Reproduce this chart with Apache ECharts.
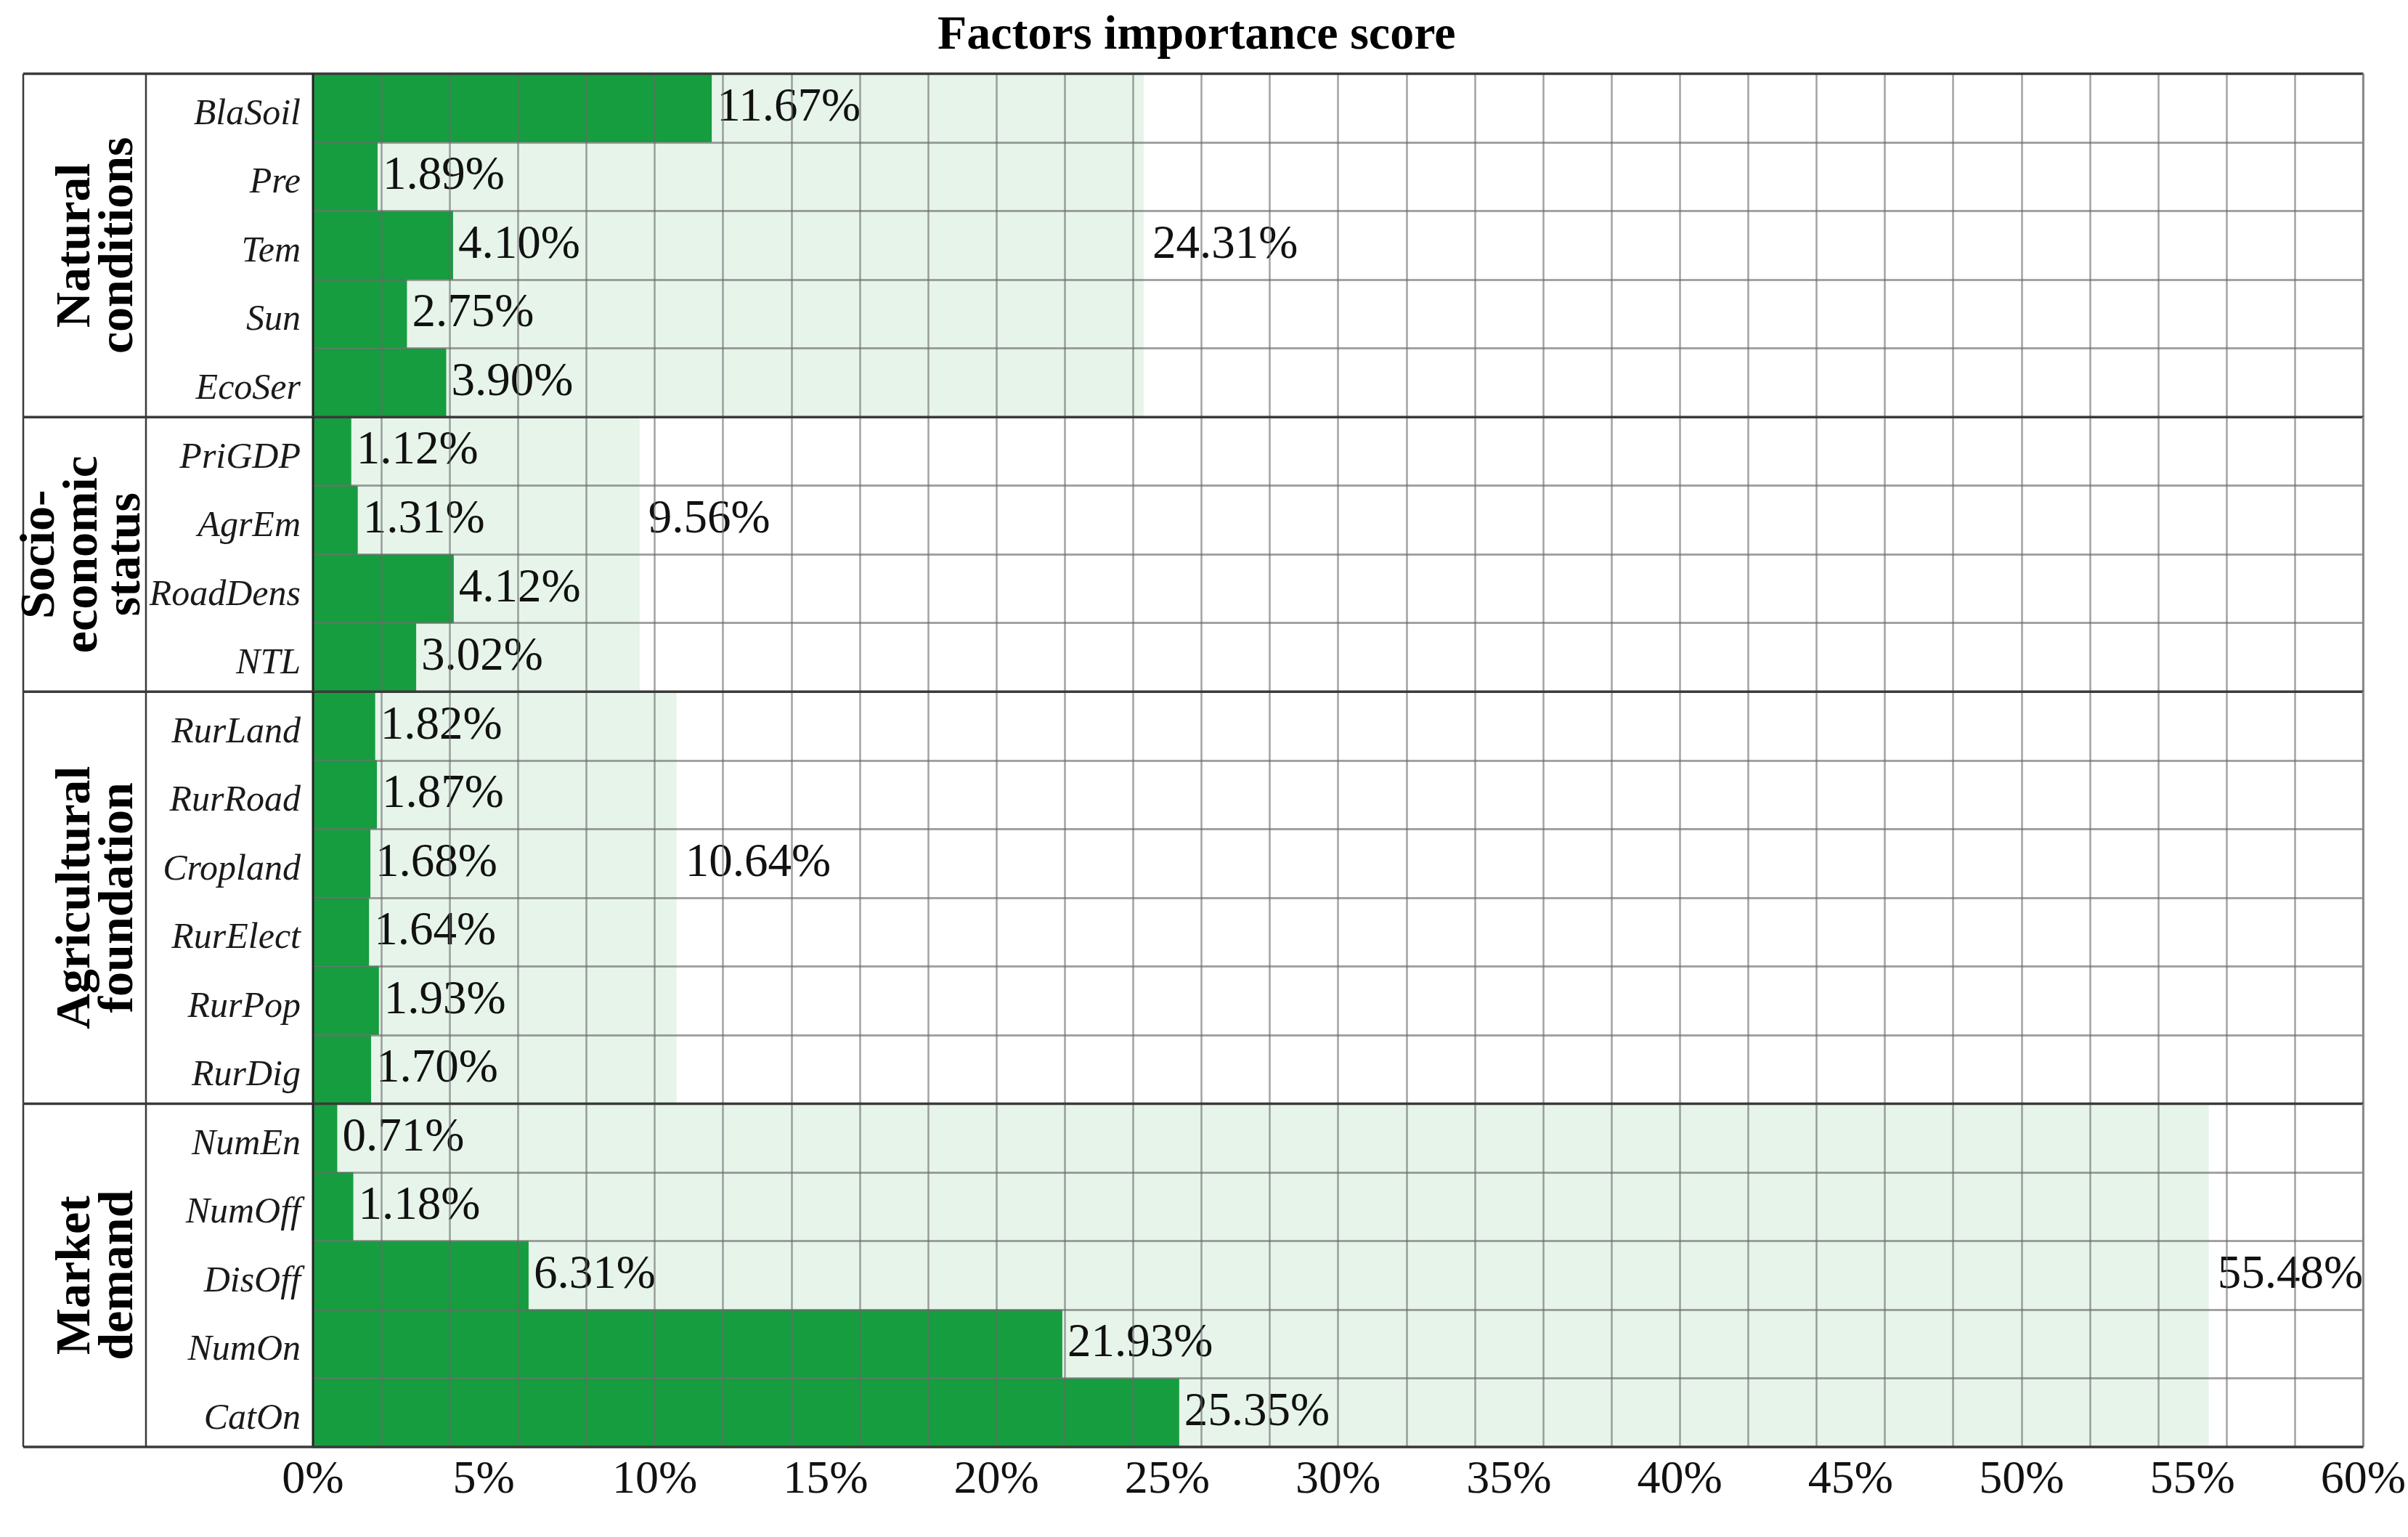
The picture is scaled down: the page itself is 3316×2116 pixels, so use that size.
<!DOCTYPE html>
<html>
<head>
<meta charset="utf-8">
<script src="https://cdn.jsdelivr.net/npm/echarts@6/dist/echarts.min.js"></script>
<style>
html,body{margin:0;padding:0;background:#fff;}
#chart{width:3316px;height:2116px;}
</style>
</head>
<body>
<div id="chart"></div>
<script>
// ---- data ----
const factors = ['BlaSoil','Pre','Tem','Sun','EcoSer',
  'PriGDP','AgrEm','RoadDens','NTL',
  'RurLand','RurRoad','Cropland','RurElect','RurPop','RurDig',
  'NumEn','NumOff','DisOff','NumOn','CatOn'];
const scores = [11.67,1.89,4.10,2.75,3.90,
  1.12,1.31,4.12,3.02,
  1.82,1.87,1.68,1.64,1.93,1.70,
  0.71,1.18,6.31,21.93,25.35];
const groupNames = ['Natural\nconditions','Socio-\neconomic\nstatus','Agricultural\nfoundation','Market\ndemand'];
const groupSizes = [5,4,6,5];
const groupTotals = [24.31,9.56,10.64,55.48];
const titleText = 'Factors importance score';
const xMin = 0, xMax = 60, xLabelStep = 5, xGridStep = 2;

// ---- derived ----
const rowGroup = [];
const groupStart = [];
let s = 0;
groupSizes.forEach((n, g) => { groupStart.push(s); for (let i = 0; i < n; i++) rowGroup.push(g); s += n; });
const labelRows = groupSizes.map((n, g) => groupStart[g] + Math.floor((n - 1) / 2));
const totalsData = factors.map((f, i) => ({
  value: groupTotals[rowGroup[i]],
  label: { show: labelRows.indexOf(i) >= 0 }
}));
const groupData = groupSizes.map((n, g) => [groupStart[g], groupStart[g] + n - 1, g]);

const FONT = 'Liberation Serif';
const TABLE_LEFT = 32, COL_DIV = 201;

const chart = echarts.init(document.getElementById('chart'));
chart.setOption({
  backgroundColor: '#ffffff',
  animation: false,
  title: {
    text: titleText,
    left: 1286, top: 12,
    textStyle: { fontFamily: FONT, fontSize: 66, fontWeight: 'bold', color: '#000' }
  },
  grid: { left: 431, right: 49, top: 101.5, bottom: 124, containLabel: false },
  xAxis: [
    {
      type: 'value', min: xMin, max: xMax, interval: xLabelStep, position: 'bottom',
      axisLine: { show: false }, axisTick: { show: false }, splitLine: { show: false },
      axisLabel: { formatter: '{value}%', fontFamily: FONT, fontSize: 64, color: '#111', margin: 14 }
    },
    {
      type: 'value', min: xMin, max: xMax, interval: xGridStep, position: 'bottom', z: 6,
      axisLine: { show: false }, axisTick: { show: false }, axisLabel: { show: false },
      splitLine: { show: true, lineStyle: { color: 'rgba(105,105,105,0.62)', width: 2.5 } }
    }
  ],
  yAxis: [{
    type: 'category', data: factors, inverse: true, z: 6,
    axisLine: { show: false }, axisTick: { show: false },
    axisLabel: { fontFamily: FONT, fontStyle: 'italic', fontSize: 50, color: '#1a1a1a', margin: 17,
      verticalAlign: 'top', lineHeight: 18 },
    splitLine: { show: true, interval: 0, lineStyle: { color: 'rgba(105,105,105,0.62)', width: 3 } }
  }],
  series: [
    {
      name: 'group total', type: 'bar', data: totalsData,
      barGap: '-100%', barCategoryGap: '0%', z: 1,
      itemStyle: { color: '#E6F4EA' },
      label: {
        position: 'right', distance: 12,
        formatter: p => p.value.toFixed(2) + '%',
        fontFamily: FONT, fontSize: 65, color: '#111'
      }
    },
    {
      name: 'factor', type: 'bar', data: scores,
      barGap: '-100%', barCategoryGap: '0%', z: 2,
      itemStyle: { color: '#169D3F' },
      label: {
        show: true, position: 'right', distance: 7,
        formatter: p => p.value.toFixed(2) + '%',
        fontFamily: FONT, fontSize: 65, color: '#111'
      }
    },
    {
      name: 'groups', type: 'custom', z: 10, clip: false, silent: true,
      data: groupData,
      encode: { x: 0, y: 1 },
      renderItem: function (params, api) {
        const start = api.value(0), end = api.value(1), g = api.value(2);
        const band = api.size([0, 1])[1];
        const pStart = api.coord([xMin, start]);
        const top = pStart[1] - band / 2;
        const bottom = api.coord([xMin, end])[1] + band / 2;
        const x0 = pStart[0];
        const xr = api.coord([xMax, start])[0];
        const dark = '#3a3a3a';
        const nLines = groupNames[g].split('\n').length;
        const textX = (TABLE_LEFT + COL_DIV) / 2 + 18 - (nLines - 2) * 19;
        const children = [
          { type: 'line', shape: { x1: TABLE_LEFT, y1: top, x2: xr, y2: top }, style: { stroke: dark, lineWidth: 3.5 } },
          { type: 'line', shape: { x1: TABLE_LEFT, y1: top, x2: TABLE_LEFT, y2: bottom }, style: { stroke: dark, lineWidth: 2.5 } },
          { type: 'line', shape: { x1: COL_DIV, y1: top, x2: COL_DIV, y2: bottom }, style: { stroke: dark, lineWidth: 2.5 } },
          { type: 'line', shape: { x1: x0, y1: top, x2: x0, y2: bottom }, style: { stroke: '#222', lineWidth: 3 } },
          { type: 'line', shape: { x1: xr, y1: top, x2: xr, y2: bottom }, style: { stroke: '#888', lineWidth: 3 } },
          {
            type: 'text', x: textX, y: (top + bottom) / 2, rotation: Math.PI / 2,
            style: {
              text: groupNames[g], fontFamily: FONT, fontSize: 68, fontWeight: 'bold',
              lineHeight: 59, fill: '#000', align: 'center', verticalAlign: 'middle'
            }
          }
        ];
        if (g === groupSizes.length - 1) {
          children.push({ type: 'line', shape: { x1: TABLE_LEFT, y1: bottom, x2: xr, y2: bottom }, style: { stroke: dark, lineWidth: 3.5 } });
        }
        return { type: 'group', children: children };
      }
    }
  ]
});
</script>
</body>
</html>
